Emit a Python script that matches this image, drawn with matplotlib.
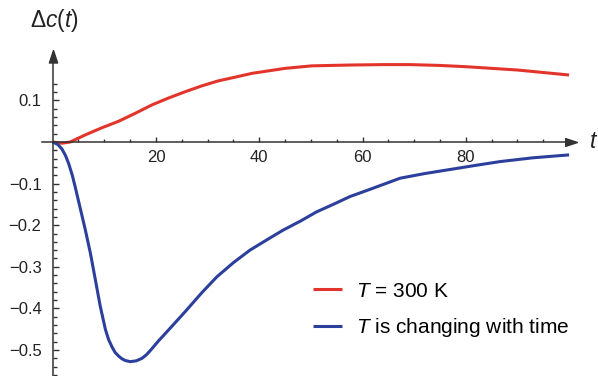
import numpy as np
import matplotlib.pyplot as plt
from matplotlib.ticker import FixedLocator

plt.rcParams['font.family'] = ['Liberation Sans', 'DejaVu Sans']
plt.rcParams['mathtext.fontset'] = 'custom'
plt.rcParams['mathtext.rm'] = 'Liberation Sans'
plt.rcParams['mathtext.it'] = 'Liberation Sans:italic'

t_red = [0, 1.8, 3.4, 6.3, 9.5, 12.8, 16, 19.2, 22.5, 25.7, 28.9, 32.1, 35.4, 38.6,
         45, 50.2, 57.6, 64, 69.2, 75, 80, 85, 90, 95, 100]
dc_red = [0, -0.003, 0, 0.017, 0.034, 0.05, 0.069, 0.089, 0.106, 0.121, 0.135, 0.147,
          0.156, 0.165, 0.177, 0.183, 0.185, 0.186, 0.186, 0.184, 0.181, 0.177, 0.173,
          0.167, 0.161]

t_blue = [0, 1, 1.8, 2.5, 3.1, 3.8, 4.4, 5.35, 6.3, 7.3, 8.25, 9.2, 10.2, 10.8, 11.5,
          12.1, 12.8, 13.4, 14, 15, 16.2, 17.3, 18.2, 19, 20.5, 22.5, 25.5, 28.9, 31.8,
          35, 38.2, 41.5, 44.6, 48, 51.1, 54.5, 57.6, 61.4, 67.3, 72, 77, 82, 86.7, 93,
          100]
dc_blue = [0, -0.006, -0.017, -0.033, -0.052, -0.08, -0.11, -0.16, -0.21, -0.267,
           -0.33, -0.394, -0.45, -0.474, -0.493, -0.506, -0.515, -0.521, -0.525, -0.528,
           -0.526, -0.52, -0.511, -0.5, -0.478, -0.451, -0.41, -0.362, -0.324, -0.29,
           -0.26, -0.235, -0.212, -0.19, -0.168, -0.149, -0.131, -0.114, -0.087,
           -0.076, -0.066, -0.056, -0.047, -0.038, -0.031]

x_major = [20, 40, 60, 80]
y_major = [0.1, -0.1, -0.2, -0.3, -0.4, -0.5]

red = '#e3342b'
blue = '#2c3f9c'
axcol = '#333333'

fig = plt.figure(figsize=(5.98, 3.76), dpi=100)
ax = fig.add_axes([0, 0, 1, 1])
ax.set_xlim(-10.2, 105.6)
ax.set_ylim(-0.5625, 0.3413)

ax.plot(t_red, dc_red, color=red, lw=2.2, label='$T$ = 300 K', solid_capstyle='butt')
ax.plot(t_blue, dc_blue, color=blue, lw=2.2, label='$T$ is changing with time',
        solid_capstyle='butt')

for s in ['top', 'right']:
    ax.spines[s].set_visible(False)
ax.spines['left'].set_position(('data', 0))
ax.spines['bottom'].set_position(('data', 0))
ax.spines['left'].set_bounds(-0.5625, 0.215)
ax.spines['bottom'].set_bounds(-2.1, 100.5)
for s in ['left', 'bottom']:
    ax.spines[s].set_color(axcol)
    ax.spines[s].set_linewidth(1.1)

# arrow heads
ax.plot(101.5, 0, marker=[(0, 0), (-1, 0.33), (-1, -0.33), (0, 0)], ms=17,
        color=axcol, clip_on=False)
ax.plot(0, 0.221, marker=[(0, 0), (-0.33, -1), (0.33, -1), (0, 0)], ms=18,
        color=axcol, clip_on=False)

ax.xaxis.set_major_locator(FixedLocator(x_major))
ax.xaxis.set_minor_locator(FixedLocator([v for v in range(5, 100, 5) if v % 20]))
ax.yaxis.set_major_locator(FixedLocator(y_major))
ax.yaxis.set_minor_locator(FixedLocator([v / 100 for v in range(-56, 15, 2)
                                         if v % 10 and v != 0]))
ax.tick_params(axis='x', which='major', direction='in', length=3.5, width=1,
               color=axcol, pad=6, labelsize=12, labelcolor='#222222')
ax.tick_params(axis='x', which='minor', direction='in', length=2, width=1, color=axcol)
ax.tick_params(axis='y', which='major', direction='in', length=4.5, width=1,
               color=axcol, pad=8, labelsize=12, labelcolor='#222222')
ax.tick_params(axis='y', which='minor', direction='in', length=2.7, width=1, color=axcol)
ax.set_xticklabels([str(v) for v in x_major])
ax.set_yticklabels([('%.1f' % v).replace('-', '\u2212') for v in y_major])

fig.text(30 / 598, 1 - 20 / 376, '$\\mathit{\\Delta c}(t)$', fontsize=16.5,
         va='center', ha='left', color='#222222')
fig.text(589 / 598, 1 - 142 / 376, '$t$', fontsize=16.5, va='center', ha='left',
         color='#222222')

ax.legend(loc='center left', bbox_to_anchor=(313 / 598, 1 - 310.5 / 376),
          bbox_transform=fig.transFigure, frameon=False, fontsize=15,
          handlelength=1.4, handletextpad=0.65, labelspacing=0.75,
          borderpad=0, borderaxespad=0)

fig.savefig('out.png', dpi=100)
